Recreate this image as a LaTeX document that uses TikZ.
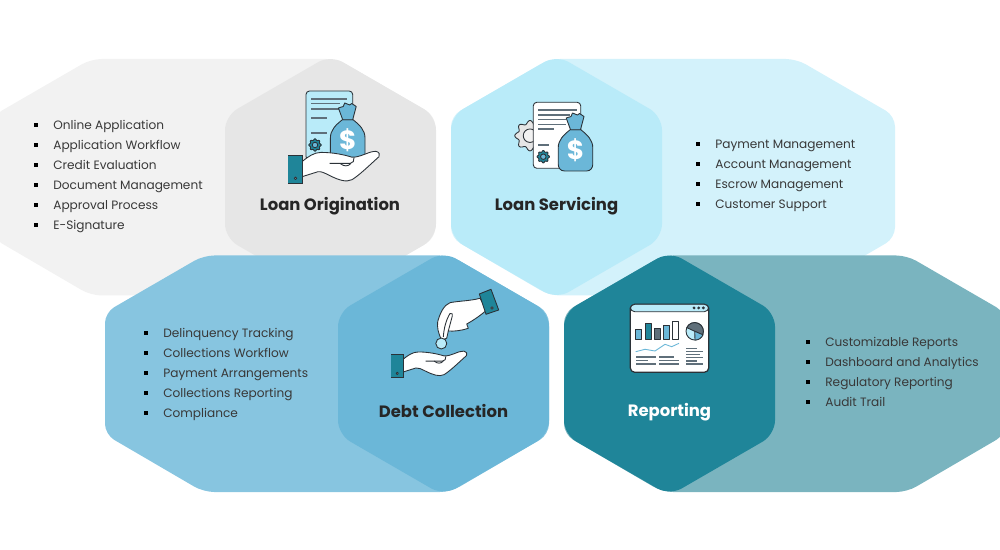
\documentclass[tikz,border=0pt]{standalone}
\usepackage{fontspec}
\setmainfont{Poppins}
\usepackage{xcolor}
\usetikzlibrary{positioning}

\definecolor{grayLight}{HTML}{F2F2F2}
\definecolor{grayDark}{HTML}{E6E6E6}
\definecolor{skyLight}{HTML}{D3F2FB}
\definecolor{skyDark}{HTML}{B9EBF9}
\definecolor{blueLight}{HTML}{87C5E0}
\definecolor{blueDark}{HTML}{6BB7D8}
\definecolor{tealLight}{HTML}{7AB4BF}
\definecolor{tealDark}{HTML}{1F8599}
\definecolor{inkLine}{HTML}{2B3238}
\definecolor{slate}{HTML}{5F6F7A}

\tikzset{
  itemtext/.style={anchor=west,inner sep=0pt,text=black!78,text height=7pt,text depth=2pt,font=\fontsize{6.9}{9}\selectfont},
  bulletbox/.style={fill=black,minimum size=2.5pt,inner sep=0pt},
  titletext/.style={inner sep=0pt,text=black!85,font=\fontsize{9.35}{12}\selectfont\bfseries},
  icon/.style={draw=inkLine,line width=.5pt,line join=round},
  rule/.style={draw=slate,line width=.6pt},
  hexcorner/.style={rounded corners=8pt},
  longcorner/.style={rounded corners=6pt}
}

% long hexagon: left apex, right apex, middle height, colour
\newcommand{\hexbody}[4]{
  \fill[#4,longcorner] (#1-105.5,#3-61) -- (#1-7,#3-118) -- (#2+7,#3-118) -- (#2+105.5,#3-61)
    -- (#2+105.5,#3+61) -- (#2+7,#3+118.5) -- (#1-7,#3+118.5) -- (#1-105.5,#3+61) -- cycle;
}
% regular hexagon: centre and colour
\newcommand{\hexface}[3]{
  \fill[#3,hexcorner] (#1-105.5,#2-61) -- (#1,#2-122) -- (#1+105.5,#2-61)
    -- (#1+105.5,#2+61) -- (#1,#2+122) -- (#1-105.5,#2+61) -- cycle;
}
% one entry of a list, with its square
\newcommand{\listitem}[4]{
  \node[itemtext] (#1) at (#2,#3) {#4};
  \node[bulletbox,left=8.3pt of #1.west] (#1b) {};
}
\newcommand{\cog}[5]{
  \draw[icon,fill=#4,shift={(#1,#2)}] plot[domain=0:360,samples=73,smooth] (\x:{#3+.13*#3*cos(8*\x)}) -- cycle;
  \draw[icon,fill=#5] (#1,#2) circle ({.5*#3});
}
% money bag, origin at top of the tie
\newcommand{\moneybag}[3]{
  \begin{scope}[shift={(#1,#2)}]
    \draw[icon,fill=blueDark] (-5.3,16.7) .. controls (-12,22) and (-17.3,27) .. (-17.3,35) -- (-17.3,51) .. controls (-17.3,55) and (-15,58) .. (-11,58)
      -- (11,58) .. controls (15,58) and (17.3,55) .. (17.3,51) -- (17.3,35) .. controls (17.3,27) and (12,22) .. (5.3,16.7) -- cycle;
    \draw[icon,fill=blueDark] (-5,16.7) -- (-9.3,5) -- (-4.5,3.5) -- (-3,0) -- (2,2) -- (4,.5) -- (8.5,3.5) -- (5,16.7) -- cycle;
    \node[inner sep=0pt,text=white,font=\fontsize{15}{15}\selectfont\bfseries] (#3) at (0,37) {\$};
  \end{scope}
}
% open hand with cuff, origin at top left of the cuff
\newcommand{\openhand}[3]{
  \begin{scope}[shift={(#1,#2)},scale=#3]
    \draw[icon,fill=white] (14,6) .. controls (20,1) and (26,-3.3) .. (33,-3.3) .. controls (45,-3.3) and (56,-1) .. (64,1.5)
      .. controls (72,2) and (82,-5) .. (88,-4.3) .. controls (91,-4) and (92.5,-1) .. (91,1) .. controls (82,9) and (72,19) .. (64,24)
      .. controls (58,27) and (50,24) .. (42,20) .. controls (36,17) and (33,15.5) .. (30,16) -- (14,21) -- cycle;
    \draw[icon] (41.7,7.7) -- (62,7.7) .. controls (65,7.7) and (66.5,5) .. (66,2);
    \draw[icon] (52,7.7) .. controls (56,11) and (60,11) .. (63,7.7);
    \fill[inkLine] (-.4,-.4) rectangle (15.1,28.1);
    \fill[tealDark] (.4,.4) rectangle (14.3,27.3);
    \draw[icon,fill=white] (7.5,22.5) circle (1.3);
  \end{scope}
}

\begin{document}
\begin{tikzpicture}[x=0.02cm,y=-0.02cm]
  \useasboundingbox (0,0) rectangle (1000,550);
  \clip (0,0) rectangle (1000,550);

  % loan origination
  \hexbody{98}{330}{177}{grayLight}
  \hexface{330.5}{177}{grayDark}
  \listitem{itemOnline}{53}{125}{Online Application}
  \listitem{itemWorkflow}{53}{145}{Application Workflow}
  \listitem{itemCredit}{53}{165}{Credit Evaluation}
  \listitem{itemDocument}{53}{185}{Document Management}
  \listitem{itemApproval}{53}{205}{Approval Process}
  \listitem{itemSignature}{53}{225}{E-Signature}

  % loan servicing
  \hexbody{556.5}{789.5}{177}{skyLight}
  \hexface{556.5}{177}{skyDark}
  \listitem{itemPayment}{715}{144}{Payment Management}
  \listitem{itemAccount}{715}{164}{Account Management}
  \listitem{itemEscrow}{715}{184}{Escrow Management}
  \listitem{itemSupport}{715}{204}{Customer Support}

  % debt collection
  \hexbody{210.5}{443.5}{373.5}{blueLight}
  \hexface{443.5}{373.5}{blueDark}
  \listitem{itemDelinquency}{163}{333}{Delinquency Tracking}
  \listitem{itemCollections}{163}{353}{Collections Workflow}
  \listitem{itemArrangements}{163}{373}{Payment Arrangements}
  \listitem{itemColReporting}{163}{393}{Collections Reporting}
  \listitem{itemCompliance}{163}{413}{Compliance}

  % reporting
  \hexbody{669.5}{900}{373.5}{tealLight}
  \hexface{669.5}{373.5}{tealDark}
  \listitem{itemCustom}{825}{342}{Customizable Reports}
  \listitem{itemDashboard}{825}{362}{Dashboard and Analytics}
  \listitem{itemRegulatory}{825}{382}{Regulatory Reporting}
  \listitem{itemAudit}{825}{402}{Audit Trail}

  \node[titletext] (titleOrigination) at (330,206.5) {Loan Origination};
  \node[titletext] (titleServicing) at (556.5,206.5) {Loan Servicing};
  \node[titletext] (titleCollection) at (443.5,411) {Debt Collection};
  \node[titletext,text=white] (titleReporting) at (669.5,412.5) {Reporting};

  % icon: document, bag and hand
  \draw[icon,fill=skyDark,rounded corners=2pt] (306,91) rectangle (352.7,160);
  \foreach \y/\xb in {99/347,103.3/340,109/340,118/327,133/327}
    \draw[rule] (311,\y) -- (\xb,\y);
  \cog{315}{145}{5.5}{tealDark}{blueDark}
  \moneybag{347.7}{103}{dollarOrigination}
  \openhand{288}{155.7}{1}

  % icon: gear, document and bag
  \cog{530}{135.7}{13.5}{grayDark}{grayLight}
  \draw[icon,fill=white,rounded corners=2pt] (533.3,102.3) rectangle (580.7,168.3);
  \foreach \y/\xb in {110/577,115/570,119.3/566,124.3/566,129/554,145/549}
    \draw[rule] (538,\y) -- (\xb,\y);
  \cog{543.3}{156.7}{5.5}{tealDark}{blueDark}
  \moneybag{575.5}{113}{dollarServicing}

  % icon: coin and two hands
  \openhand{391}{354.7}{.83}
  \draw[icon,fill=white] (480,298.3) .. controls (470,301) and (458,301) .. (450,302.7) .. controls (444,305) and (440,313) .. (437.7,321.7)
    .. controls (437,327) and (438,333) .. (441.7,340) -- (446.7,338.3) -- (448.3,331) .. controls (454,331.5) and (462,330.5) .. (468.3,328.3)
    -- (466.7,324) .. controls (474,320) and (481,315) .. (486.7,310) -- cycle;
  \draw[icon] (443.3,337) .. controls (444,328) and (446,320) .. (450,313.5) .. controls (452,312.5) and (453,314.5) .. (452.3,316) -- (448.3,331);
  \draw[icon,fill=skyDark] (441.3,343.5) circle (5.5);
  \draw[icon,fill=tealDark] (479.3,294) -- (491,289.3) -- (498.7,310) -- (486,314.3) -- cycle;
  \draw[icon,fill=white] (492,308) circle (1.3);

  % icon: report window
  \draw[icon,line width=.7pt,fill=white,rounded corners=2.5pt] (630.3,304.3) rectangle (708.7,372.3);
  \draw[icon,fill=skyDark,rounded corners=2.5pt] (630.3,311.7) -- (630.3,304.3) -- (708.7,304.3) -- (708.7,311.7) -- cycle;
  \foreach \x in {694,698.7,703.3}
    \fill[inkLine] (\x,307.9) circle (1.6);
  \foreach \x/\t/\c in {635.7/329/blueDark,645/323.3/tealDark,654.3/328.7/slate,663.3/325.3/blueDark,672.3/321.3/white}
    \draw[icon,fill=\c] (\x,339.3) rectangle (\x+6.2,\t);
  \draw[icon,fill=skyDark] (694.7,331.3) circle (8.7);
  \draw[icon,fill=slate] (694.7,331.3) -- (686.8,327.6) arc[start angle=-155,end angle=25,radius=8.7] -- cycle;
  \draw[icon,fill=blueDark] (694.7,331.3) -- (703,334.8) arc[start angle=23,end angle=90,radius=8.7] -- cycle;
  \draw[blueDark,line width=.5pt] (635.7,351.7) -- (645,349.3) -- (655,351) -- (665,344.3) -- (671.7,346.7) -- (679,343.3);
  \foreach \y/\xa/\xb in {357/636/656,360.3/636/648.3,364/636/656,357/659/674.3,360.3/659/679,364/659/679,348.7/686/697.3,351.7/686/703.3,354.7/686/700,357.7/686/703.3,361/686/697.3,364/686/703.3}
    \draw[rule] (\xa,\y) -- (\xb,\y);
\end{tikzpicture}
\end{document}
